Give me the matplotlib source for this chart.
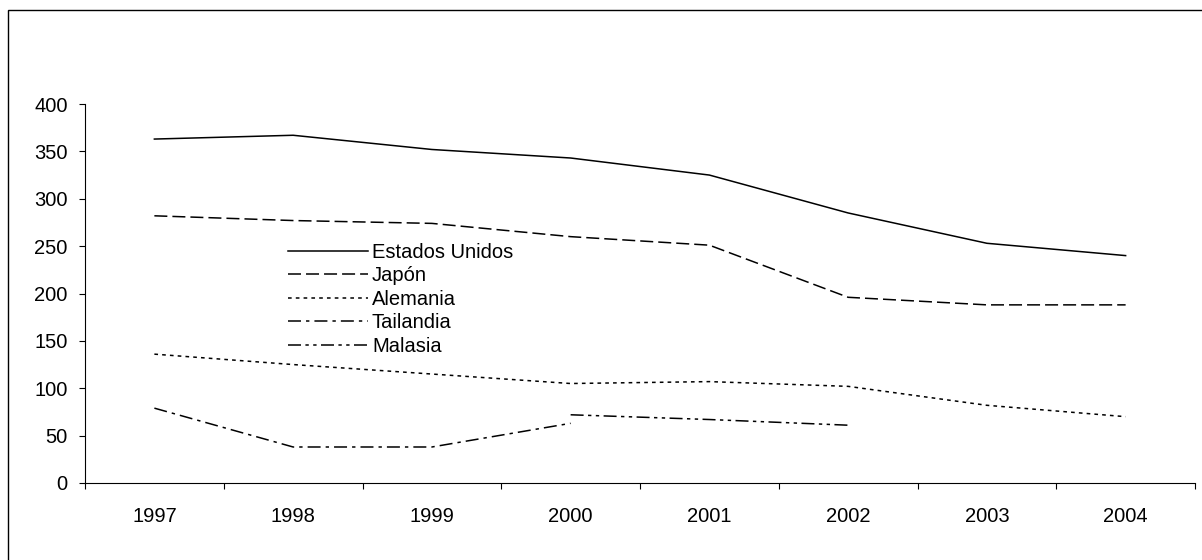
import numpy as np
import matplotlib.pyplot as plt
from matplotlib.patches import Rectangle

plt.rcParams['font.family'] = ['Liberation Sans', 'DejaVu Sans']

years = ['1997', '1998', '1999', '2000', '2001', '2002', '2003', '2004']
nan = np.nan
estados_unidos = [363, 367, 352, 343, 325, 285, 253, 240]
japon = [282, 277, 274, 260, 251, 196, 188, 188]
alemania = [136, 125, 115, 105, 107, 102, 82, 70]
tailandia = [79, 38, 38, 63, nan, nan, nan, nan]
malasia = [nan, nan, nan, 72, 67, 61, nan, nan]

fs = 14.5

fig = plt.figure(figsize=(12.02, 5.6), dpi=100)
ax = fig.add_axes([85 / 1202, 77 / 560, 1110 / 1202, 379 / 560])

# outer chart frame (right and bottom edges fall outside the image)
fig.patches.append(Rectangle((8 / 1202, -0.05), 1.2, 1 - 10 / 560 + 0.05,
                             transform=fig.transFigure, fill=False,
                             edgecolor='black', linewidth=1.0))

x = np.arange(len(years)) + 0.5
lw = 1.1
ax.plot(x, estados_unidos, color='black', lw=lw, label='Estados Unidos')
ax.plot(x, japon, color='black', lw=lw, dashes=(8.5, 3.3), label='Japón')
ax.plot(x, alemania, color='black', lw=lw, dashes=(2.4, 2.7), label='Alemania')
ax.plot(x, tailandia, color='black', lw=lw, dashes=(8.5, 3.3, 2.2, 3.3), label='Tailandia')
ax.plot(x, malasia, color='black', lw=lw, dashes=(8.5, 2.9, 2.2, 2.9, 2.2, 2.9), label='Malasia')

ax.set_xlim(0, len(years))
ax.set_ylim(0, 400)
ax.set_yticks(range(0, 401, 50))
ax.set_xticks(range(len(years) + 1))
ax.set_xticklabels([])
ax.set_xticks(x, minor=True)
ax.set_xticklabels(years, minor=True)

ax.tick_params(axis='x', which='major', direction='out', length=4.5, width=0.8)
ax.tick_params(axis='x', which='minor', length=0, pad=17, labelsize=fs)
ax.tick_params(axis='y', direction='out', length=4.5, width=0.8, pad=8, labelsize=fs)

for side in ['top', 'right']:
    ax.spines[side].set_visible(False)
for side in ['left', 'bottom']:
    ax.spines[side].set_linewidth(0.8)
    ax.spines[side].set_color('black')

ax.legend(loc='upper left', bbox_to_anchor=(288 / 1202, 1 - 243 / 560),
          bbox_transform=fig.transFigure, frameon=False, fontsize=fs,
          handlelength=3.97, handletextpad=0.2, labelspacing=0.22,
          borderpad=0, borderaxespad=0)

plt.savefig('out.png', dpi=100)
